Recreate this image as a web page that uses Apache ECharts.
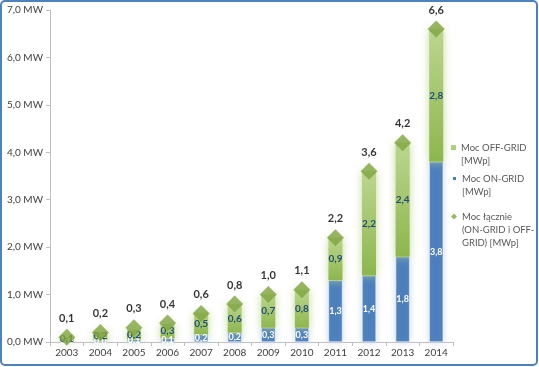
<!DOCTYPE html>
<html>
<head>
<meta charset="utf-8">
<script src="https://cdn.jsdelivr.net/npm/echarts@6/dist/echarts.min.js"></script>
<style>
html,body{margin:0;padding:0;background:#fff;}
#c{width:539px;height:367px;}
</style>
</head>
<body>
<div id="c"></div>
<script>
const years = ['2003','2004','2005','2006','2007','2008','2009','2010','2011','2012','2013','2014'];
const onGrid = [0.02, 0.04, 0.06, 0.08, 0.16, 0.2, 0.3, 0.3, 1.3, 1.4, 1.8, 3.8];
const offGrid = [0.08, 0.17, 0.2, 0.3, 0.46, 0.6, 0.7, 0.8, 0.9, 2.2, 2.4, 2.8];
const totals = [0.1, 0.2, 0.3, 0.4, 0.6, 0.8, 1.0, 1.1, 2.2, 3.6, 4.2, 6.6];
const yTicks = [0, 1, 2, 3, 4, 5, 6, 7];
const names = ['Moc OFF-GRID\n[MWp]', 'Moc ON-GRID\n[MWp]', 'Moc łącznie\n(ON-GRID i OFF-\nGRID) [MWp]'];

const FONT = 'Lato';
const fmt = v => v.toFixed(1).replace('.', ',');
const legendText = {color: '#595959', fontSize: 9.5, lineHeight: 13, fontFamily: FONT};
const sqIcon = 'path://M0,4L5,4L5,9L0,9Z M0,0L0,0 M0,26L0,26';
const diIcon = 'path://M3,3.5L6,6.5L3,9.5L0,6.5Z M0,0L0,0 M0,39L0,39';
const mkLegend = (name, icon, top, w, h) => ({
  orient: 'vertical', left: 451, top: top, padding: 0,
  itemWidth: w, itemHeight: h, itemGap: 0,
  data: [{name: name, icon: icon}], textStyle: legendText
});

const chart = echarts.init(document.getElementById('c'), null, {renderer: 'canvas'});
chart.setOption({
  animation: false,
  textStyle: {fontFamily: FONT},
  graphic: [{
    type: 'rect', z: 100, silent: true,
    shape: {x: 1, y: 1, width: 536, height: 364, r: 4},
    style: {fill: 'none', stroke: '#4f81bd', lineWidth: 2}
  }],
  grid: {left: 50, right: 86, top: 10, bottom: 25, containLabel: false},
  legend: [
    mkLegend(names[0], sqIcon, 141, 5, 26),
    mkLegend(names[1], sqIcon, 171, 5, 26),
    mkLegend(names[2], diIcon, 210, 6, 39)
  ],
  xAxis: {
    type: 'category', data: years,
    axisLine: {lineStyle: {color: '#bfbfbf'}},
    axisTick: {show: true, lineStyle: {color: '#bfbfbf'}, length: 4},
    axisLabel: {color: '#404040', fontSize: 10, margin: 6}
  },
  yAxis: {
    type: 'value', min: 0, max: 7, interval: 1,
    axisLine: {show: true, lineStyle: {color: '#bfbfbf'}},
    axisTick: {show: true, lineStyle: {color: '#bfbfbf'}, length: 4},
    splitLine: {show: false},
    axisLabel: {color: '#404040', fontSize: 10, margin: 7,
      formatter: v => yTicks.includes(v) ? fmt(v) + ' MW' : ''}
  },
  series: [
    {
      name: names[1], type: 'bar', stack: 's', data: onGrid, barWidth: 14,
      itemStyle: {color: '#4a7ebb', borderColor: '#ffffff', borderWidth: 0.5,
        shadowBlur: 6, shadowColor: 'rgba(195,210,235,0.9)'},
      label: {show: true, position: 'inside', color: '#fff', fontSize: 9, fontWeight: 'bold',
        formatter: p => fmt(p.value)}
    },
    {
      name: names[0], type: 'bar', stack: 's', data: offGrid, barWidth: 14,
      itemStyle: {
        color: new echarts.graphic.LinearGradient(0, 0, 0, 1, [
          {offset: 0, color: '#bcd68e'}, {offset: 1, color: '#8db64e'}]),
        shadowBlur: 8, shadowColor: 'rgba(185,212,135,0.85)'
      },
      label: {show: true, position: 'inside', color: '#1f4e79', fontSize: 10, fontWeight: 'bold',
        formatter: p => fmt(p.value)}
    },
    {
      name: names[2], type: 'scatter', data: totals,
      symbol: 'diamond', symbolSize: [17, 17], z: 10,
      itemStyle: {color: '#7ea43f'},
      label: {show: true, position: 'top', distance: 5, color: '#000', fontSize: 11, fontWeight: 'bold',
        formatter: p => fmt(p.value)}
    }
  ]
});
</script>
</body>
</html>
